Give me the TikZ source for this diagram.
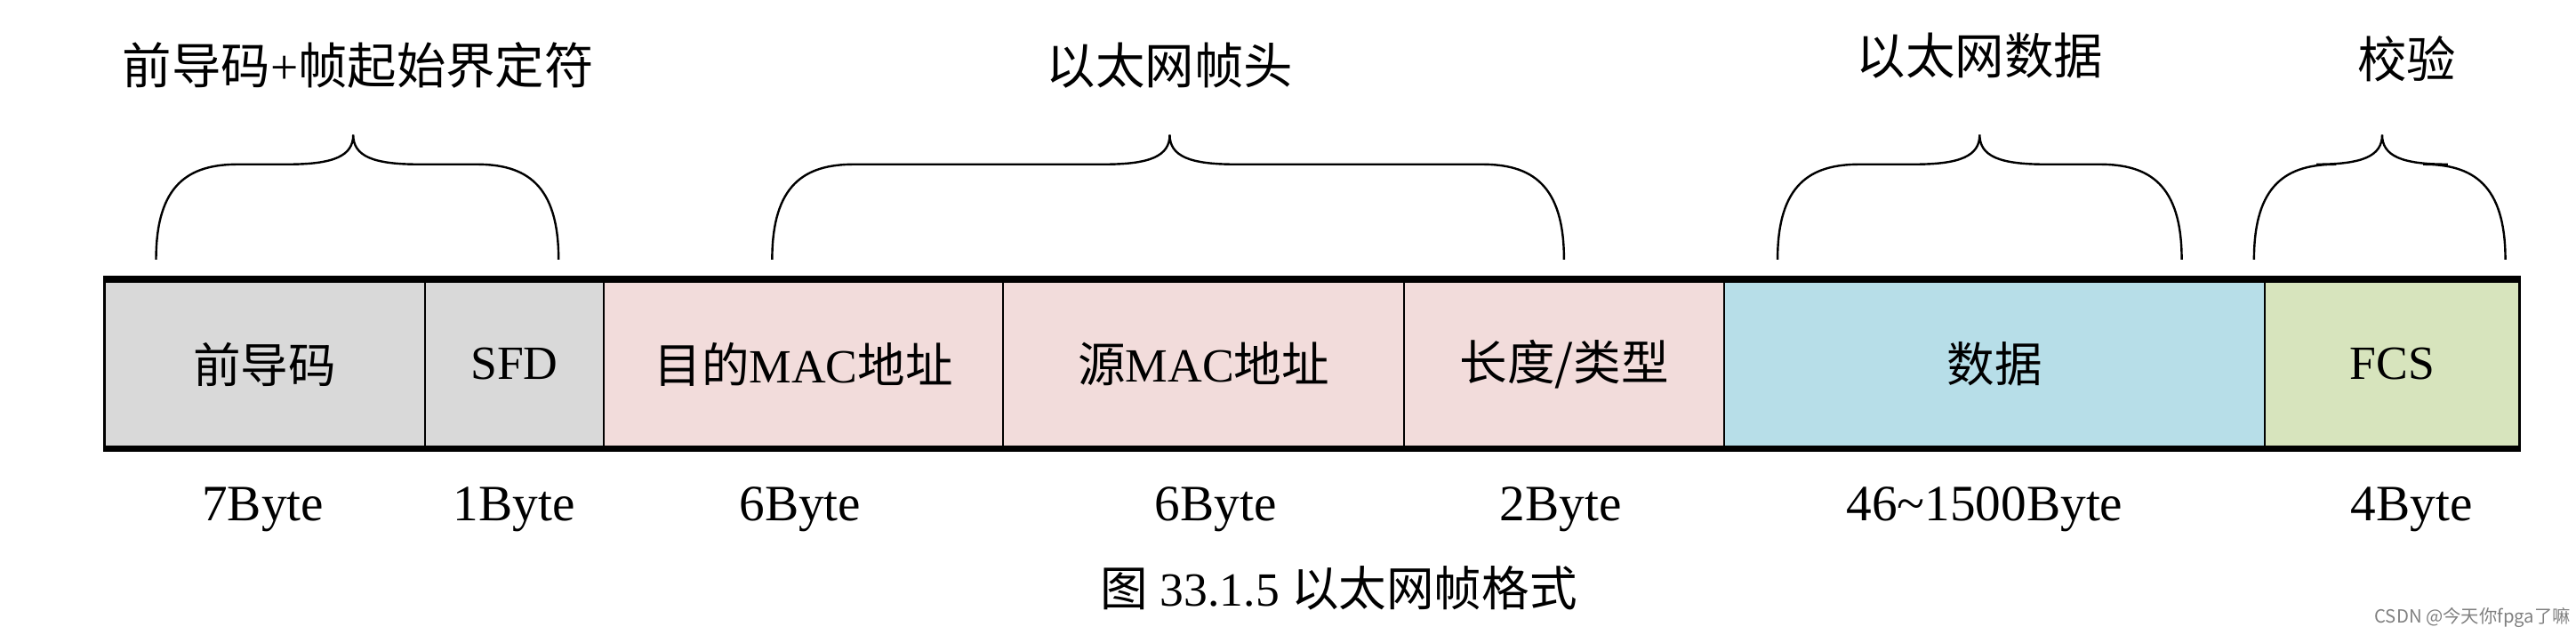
\documentclass[tikz,border=0pt]{standalone}
\usepackage{fontspec}
\setmainfont{Liberation Serif}
\newfontfamily\cjk{Noto Sans CJK SC}
\usetikzlibrary{positioning}
\definecolor{headgray}{HTML}{D9D9D9}
\definecolor{macpink}{HTML}{F2DCDB}
\definecolor{datablue}{HTML}{B7DEE8}
\definecolor{fcsgreen}{HTML}{D7E4BD}
\tikzset{
    field/.style={draw, line width=1.2pt, minimum height=102pt, inner sep=0pt,
        anchor=north west, font=\fontsize{29}{30}\selectfont},
    bytes/.style={font=\fontsize{31}{32}\selectfont},
    group/.style={font=\cjk\fontsize{30}{32}\selectfont},
    brace/.style={line width=1.3pt}
}
\newcommand{\curly}[3]{% left x, right x, mid x
    \draw[brace] (#1,158) .. controls (#1,112) and (#1+20,100) .. (#1+50,100)
        -- (#3-40,100) .. controls (#3-12,100) and (#3,95) .. (#3,82)
        .. controls (#3,95) and (#3+12,100) .. (#3+40,100)
        -- (#2-50,100) .. controls (#2-20,100) and (#2,112) .. (#2,158);}
\begin{document}
\begin{tikzpicture}[x=1pt, y=-1pt]
    \useasboundingbox (0,0) rectangle (1568,386);
    % frame fields
    \node (pre) [field, fill=headgray, minimum width=195pt] at (63,170) {\cjk 前导码};
    \node (sfd) [field, fill=headgray, minimum width=109pt] at (258,170) {SFD};
    \node (dst) [field, fill=macpink, minimum width=243pt] at (367,170) {\cjk 目的\textrm{MAC}地址};
    \node (src) [field, fill=macpink, minimum width=244pt] at (610,170) {\cjk 源\textrm{MAC}地址};
    \node (len) [field, fill=macpink, minimum width=195pt] at (854,170) {\cjk 长度/类型};
    \node (dat) [field, fill=datablue, minimum width=329pt] at (1049,170) {\cjk 数据};
    \node (fcs) [field, fill=fcsgreen, minimum width=155pt] at (1378,170) {FCS};
    \draw[line width=4pt] (pre.north west) -- (fcs.north east);
    \draw[line width=4pt] (pre.south west) -- (fcs.south east);

    % sizes
    \node (b1) [bytes] at (160,310) {7Byte};
    \node (b2) [bytes] at (313,310) {1Byte};
    \node (b3) [bytes] at (487,310) {6Byte};
    \node (b4) [bytes] at (740,310) {6Byte};
    \node (b5) [bytes] at (950,310) {2Byte};
    \node (b6) [bytes] at (1208,310) {46\textasciitilde1500Byte};
    \node (b7) [bytes] at (1468,310) {4Byte};

    % groups
    \curly{95}{340}{215}
    \curly{470}{952}{712}
    \curly{1082}{1328}{1205}
    \curly{1372}{1525}{1450}
    \node (g1) [group] at (218,40) {前导码\textrm{+}帧起始界定符};
    \node (g2) [group] at (712,40) {以太网帧头};
    \node (g3) [group] at (1205,34) {以太网数据};
    \node (g4) [group] at (1465,36) {校验};

    \node (cap) [font=\fontsize{29}{30}\selectfont] at (815,358) {{\cjk 图} 33.1.5 {\cjk 以太网帧格式}};
    \node (mark) [font=\cjk\fontsize{11}{12}\selectfont, text=gray] at (1505,376) {CSDN @今天你fpga了嘛};
\end{tikzpicture}
\end{document}
